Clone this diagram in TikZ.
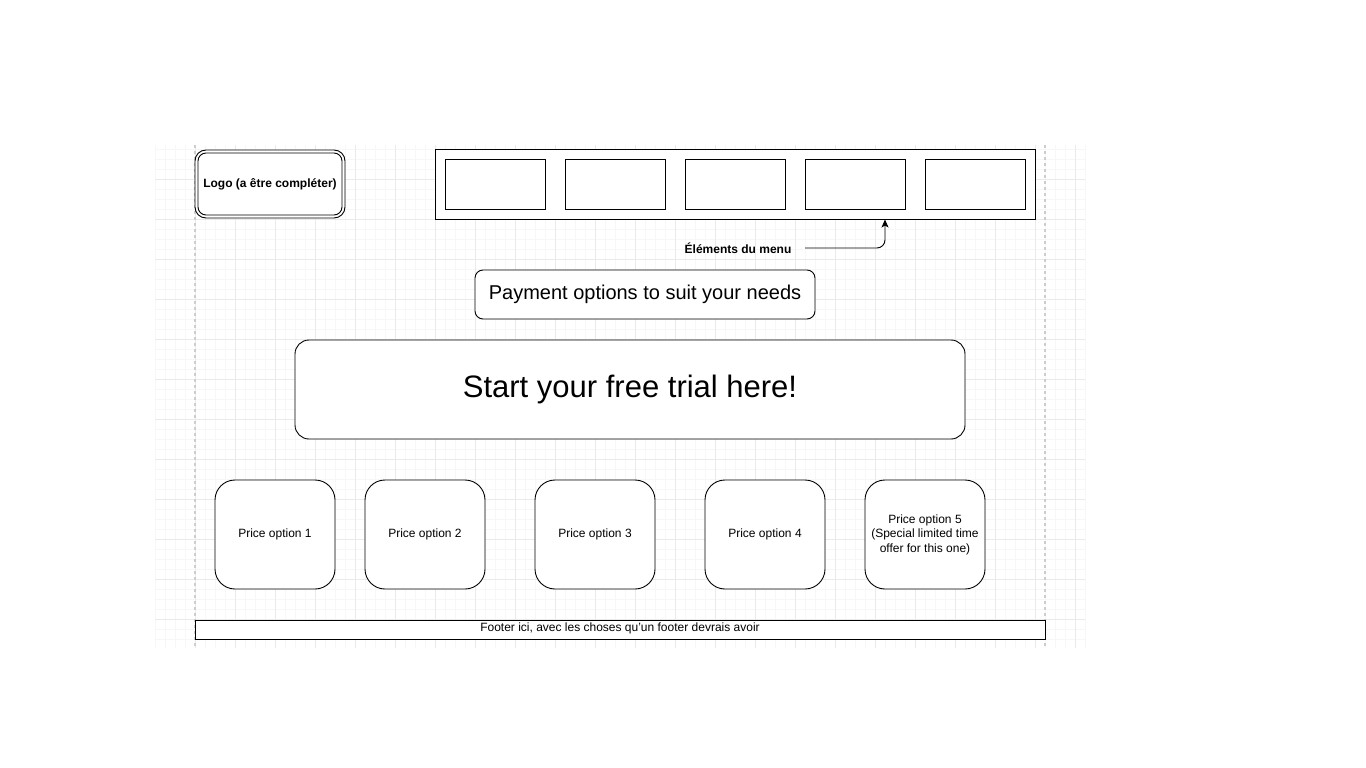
\documentclass[tikz,border=0pt]{standalone}
\usepackage{fontspec}
\setmainfont{Liberation Sans}
\usetikzlibrary{arrows.meta}
\definecolor{gridminor}{HTML}{F7F7F7}
\definecolor{gridmajor}{HTML}{EAEAEA}
\definecolor{guide}{HTML}{CDCDCD}
\begin{document}
\begin{tikzpicture}[x=1pt,y=-1pt,
  box/.style={draw=black,line width=0.9pt,fill=white,inner sep=0pt},
  lbl/.style={inner sep=0pt,align=center}]
\useasboundingbox (0,0) rectangle (1366,768);
\fill[white] (0,0) rectangle (1366,768);
% background grid of the canvas
\foreach \x in {155,165,...,1085} \draw[gridminor,line width=0.8pt] (\x,145) -- (\x,648);
\foreach \y in {149,159,...,648} \draw[gridminor,line width=0.8pt] (155,\y) -- (1085,\y);
\foreach \x in {195,235,...,1085} \draw[gridmajor,line width=0.8pt] (\x,145) -- (\x,648);
\foreach \y in {179,219,...,648} \draw[gridmajor,line width=0.8pt] (155,\y) -- (1085,\y);
% page guides
\draw[guide,line width=1.2pt,dash pattern=on 3pt off 3pt] (195,145) -- (195,648);
\draw[guide,line width=1.2pt,dash pattern=on 3pt off 3pt] (1045,145) -- (1045,648);

% logo with double border
\draw[box,rounded corners=11pt] (195,150) rectangle (345,218);
\draw[box,rounded corners=8pt] (198,153) rectangle (342,215);
\node[lbl,font=\bfseries\fontsize{12}{14}\selectfont] (logo) at (270,184) {Logo (a être compléter)};

% menu bar
\node[box,minimum width=600pt,minimum height=70pt] (menu) at (735,184) {};
\foreach \i/\cx in {1/495,2/615,3/735,4/855,5/975}
  \node[box,minimum width=100pt,minimum height=50pt] (m\i) at (\cx,184) {};

% menu label and arrow
\node[lbl,font=\bfseries\fontsize{12}{14}\selectfont] (menulbl) at (738,248) {Éléments du menu};
\coordinate (lblend) at (805,248);
\coordinate (tip) at (885,219.5);
\draw[line width=0.9pt,-{Stealth[length=8pt,width=7pt,inset=2pt]},rounded corners=8pt]
  (lblend) -- (tip |- lblend) -- (tip);

% headline boxes
\node[box,rounded corners=8pt,minimum width=340pt,minimum height=49pt,font=\fontsize{20}{24}\selectfont] (pay) at (645,294.5) {Payment options to suit your needs};
\node[box,rounded corners=14pt,minimum width=670pt,minimum height=99pt,font=\fontsize{31}{37}\selectfont] (trial) at (630,389.5) {Start your free trial here!};

% price options
\tikzset{price/.style={box,rounded corners=20pt,minimum width=120pt,minimum height=109pt,align=center,font=\fontsize{12}{14.5}\selectfont}}
\node[price] (p1) at (275,534.5) {Price option 1};
\node[price] (p2) at (425,534.5) {Price option 2};
\node[price] (p3) at (595,534.5) {Price option 3};
\node[price] (p4) at (765,534.5) {Price option 4};
\node[price] (p5) at (925,534.5) {Price option 5\\(Special limited time\\offer for this one)};

% footer
\node[box,minimum width=850pt,minimum height=19pt] (footer) at (620,629.5) {};
\node[lbl,font=\fontsize{12}{14}\selectfont] (footertxt) at (620,628) {Footer ici, avec les choses qu'un footer devrais avoir};
\end{tikzpicture}
\end{document}
